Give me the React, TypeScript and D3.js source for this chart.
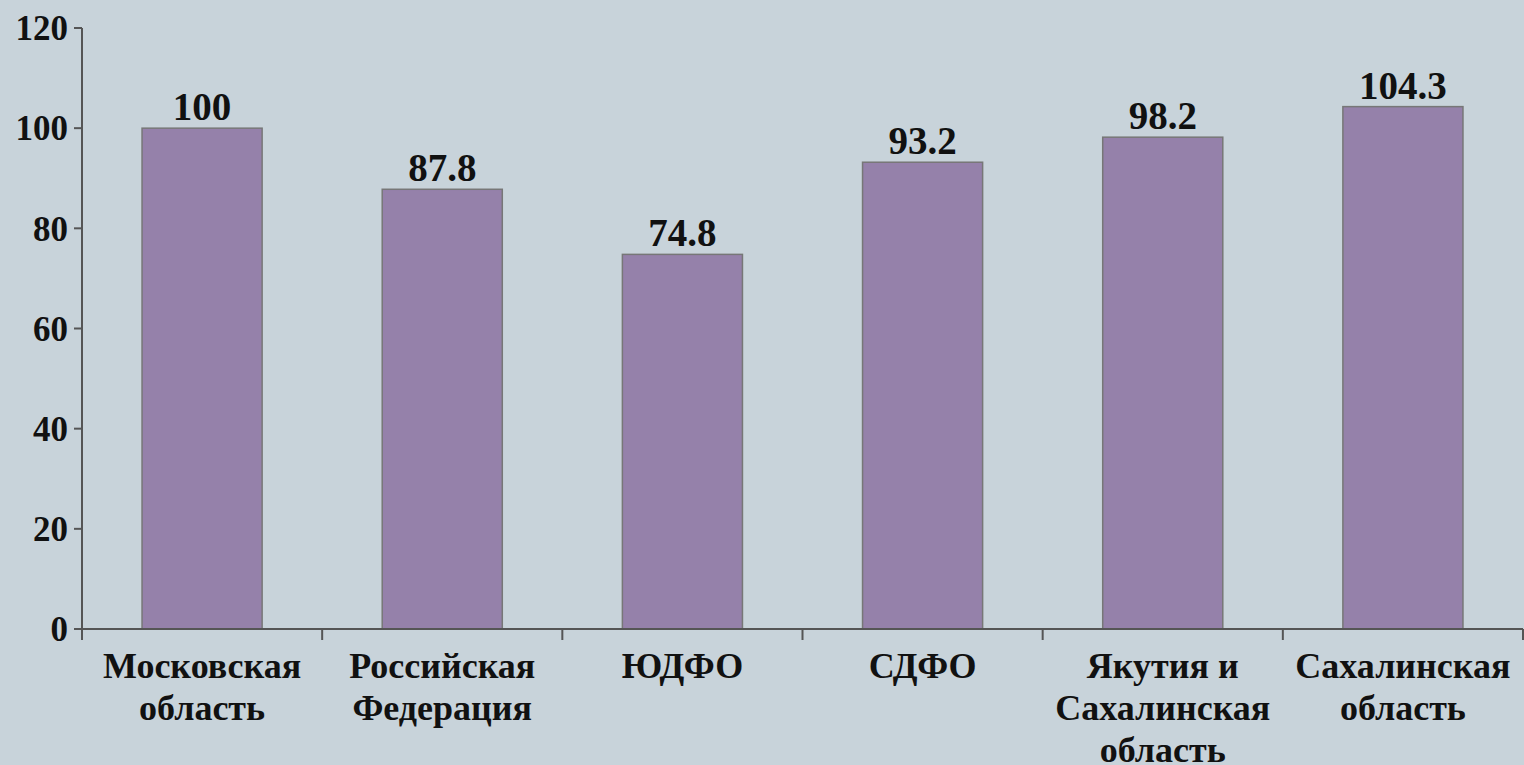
import * as d3 from 'd3';

// Chart data
const regions: string[][] = [
  ['Московская', 'область'],
  ['Российская', 'Федерация'],
  ['ЮДФО'],
  ['СДФО'],
  ['Якутия и', 'Сахалинская', 'область'],
  ['Сахалинская', 'область'],
];
const values: number[] = [100, 87.8, 74.8, 93.2, 98.2, 104.3];
const valueLabels: string[] = ['100', '87.8', '74.8', '93.2', '98.2', '104.3'];
const yTicks: number[] = [0, 20, 40, 60, 80, 100, 120];

const W = 1524;
const H = 765;
const FONT = "'Liberation Serif', 'DejaVu Serif', serif";

export default function App() {
  const keys = regions.map((_, i) => String(i));

  const x = d3.scaleBand<string>().domain(keys).range([82, 1523]).paddingInner(0.5).paddingOuter(0.25);
  const y = d3.scaleLinear().domain([0, 120]).range([629, 28]);

  const x0 = 82;
  const x1 = 1523;
  const step = x.step();
  const catTicks = d3.range(regions.length + 1).map((i) => x0 + i * step);
  const cx = (i: number) => (x(keys[i]) ?? 0) + x.bandwidth() / 2;

  return (
    <div style={{ position: 'fixed', left: 0, top: 0, width: W, height: H, background: '#c8d3da' }}>
      <svg width={W} height={H} style={{ display: 'block', fontFamily: FONT, fontWeight: 'bold' }}>
        <rect width={W} height={H} fill="#c8d3da" />

        {/* bars */}
        {values.map((v, i) => (
          <g key={i}>
            <rect
              x={x(keys[i])}
              y={y(v)}
              width={x.bandwidth()}
              height={y(0) - y(v)}
              fill="#9581aa"
              stroke="#777777"
              strokeWidth={1.5}
            />
            <text x={cx(i)} y={y(v) - 8} textAnchor="middle" fontSize={39} fill="#111">
              {valueLabels[i]}
            </text>
          </g>
        ))}

        {/* y axis */}
        <line x1={x0} x2={x0} y1={y(120)} y2={y(0) + 11} stroke="#555" strokeWidth={2} />
        {yTicks.map((t) => (
          <g key={t}>
            <line x1={x0 - 8} x2={x0} y1={y(t)} y2={y(t)} stroke="#555" strokeWidth={2} />
            <text x={x0 - 14} y={y(t)} dy="0.35em" textAnchor="end" fontSize={35} fill="#111">
              {t}
            </text>
          </g>
        ))}

        {/* x axis */}
        <line x1={x0 - 8} x2={x1} y1={y(0)} y2={y(0)} stroke="#555" strokeWidth={2} />
        {catTicks.map((tx, i) => (
          <line key={i} x1={tx} x2={tx} y1={y(0)} y2={y(0) + 11} stroke="#555" strokeWidth={2} />
        ))}
        {regions.map((lines, i) => (
          <text key={i} x={cx(i)} y={678} textAnchor="middle" fontSize={36} fill="#111">
            {lines.map((ln, j) => (
              <tspan key={j} x={cx(i)} dy={j === 0 ? 0 : 42}>
                {ln}
              </tspan>
            ))}
          </text>
        ))}
      </svg>
    </div>
  );
}
